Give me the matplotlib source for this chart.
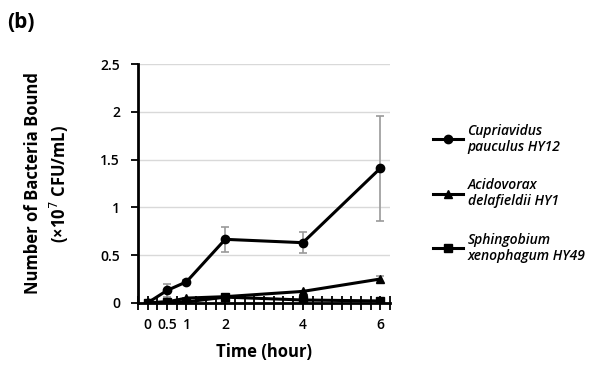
import numpy as np
import matplotlib.pyplot as plt

plt.rcParams['font.family'] = ['Open Sans', 'DejaVu Sans']

time = [0, 0.5, 1, 2, 4, 6]
cupri = [0.0, 0.13, 0.22, 0.665, 0.63, 1.41]
cupri_err = [0.0, 0.07, 0.02, 0.13, 0.11, 0.55]
acido = [0.0, 0.01, 0.05, 0.065, 0.12, 0.25]
acido_err = [0.0, 0.0, 0.0, 0.0, 0.0, 0.03]
sphingo = [0.0, 0.01, 0.01, 0.06, 0.03, 0.02]
sphingo_err = [0.0, 0.0, 0.0, 0.0, 0.0, 0.0]
names = ["Cupriavidus\npauculus HY12", "Acidovorax\ndelafieldii HY1", "Sphingobium\nxenophagum HY49"]

fig = plt.figure(figsize=(5.92, 3.68), dpi=100)
ax = fig.add_axes([0.233, 0.177, 0.426, 0.649])

series = [(cupri, cupri_err, 'o'), (acido, acido_err, '^'), (sphingo, sphingo_err, 's')]
handles = []
for (vals, err, m), name in zip(series, names):
    ax.errorbar(time, vals, yerr=err, fmt='none', ecolor='#9a9a9a', elinewidth=1.2,
                capsize=3, capthick=1.2, zorder=2)
    h, = ax.plot(time, vals, color='black', lw=2.2, marker=m, ms=6, zorder=3, label=name)
    handles.append(h)

ax.set_xlim(-0.25, 6.25)
ax.set_ylim(0, 2.5)
ax.set_yticks([0, 0.5, 1, 1.5, 2, 2.5])
ax.set_yticklabels(['0', '0.5', '1', '1.5', '2', '2.5'])
# tick every quarter hour, labels only at sampling times
xt = np.arange(-0.25, 6.26, 0.25)
ax.set_xticks(xt)
ax.set_xticklabels([f'{t:g}' if t in time else '' for t in xt])
ax.grid(axis='y', color='#d9d9d9', lw=1)
ax.set_axisbelow(True)
for s in ['top', 'right']:
    ax.spines[s].set_visible(False)
for s in ['left', 'bottom']:
    ax.spines[s].set_linewidth(2)
ax.tick_params(axis='x', direction='inout', length=10, width=1.3, pad=6, labelsize=10)
ax.tick_params(axis='y', direction='out', length=5, width=1.3, pad=8, labelsize=10)
for lab in ax.get_xticklabels() + ax.get_yticklabels():
    lab.set_fontweight('semibold')

ax.set_xlabel('Time (hour)', fontsize=12, fontweight='bold', labelpad=8)
ax.set_ylabel('Number of Bacteria Bound\n(×10$^7$ CFU/mL)', fontsize=12, fontweight='bold',
              labelpad=21, linespacing=1.3)

fig.text(0.012, 0.925, '(b)', fontsize=15, fontweight='bold')

leg = fig.legend(handles=handles, loc='center left', bbox_to_anchor=(0.71, 0.475), frameon=False,
                 handlelength=2.2, handletextpad=0.3, labelspacing=1.75,
                 prop={'style': 'italic', 'weight': 'semibold', 'size': 10})

fig.savefig('out.png', dpi=100)
